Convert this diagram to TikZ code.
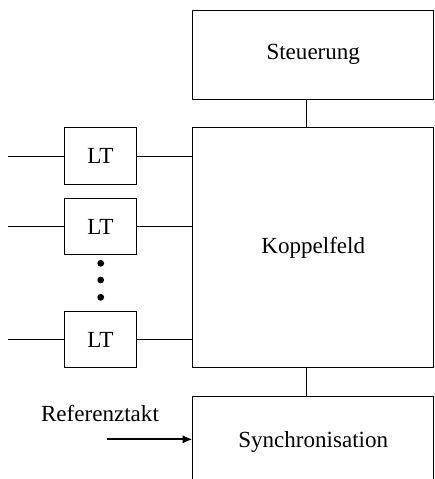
\documentclass[tikz,border=0pt]{standalone}
\usepackage{fontspec}
\setmainfont{Liberation Serif}
\usetikzlibrary{positioning,calc,arrows.meta}
\begin{document}
\begin{tikzpicture}[x=0.025cm,y=-0.025cm,line width=0.7pt,
    font=\fontsize{16.4}{20}\selectfont,
    block/.style={draw,minimum width=6.0125cm,inner sep=0pt},
    ltbox/.style={draw,minimum width=1.8cm,minimum height=1.41cm,inner sep=0pt}]
    \useasboundingbox (0,0) rectangle (434,479);
    \clip (0,0) rectangle (434,479);
    % right column
    \node[block,minimum height=2.21cm] (steuer) at (313.25,54.85) {Steuerung};
    \node[block,minimum height=6cm] (koppel) at (313.25,247.7) {Koppelfeld};
    \node[block,minimum height=2.3cm] (sync) at (313.25,442.3) {Synchronisation};
    \draw ($(steuer.south)+(-7.25,0)$) -- ($(koppel.north)+(-7.25,0)$);
    \draw ($(koppel.south)+(-7.25,0)$) -- ($(sync.north)+(-7.25,0)$);
    % line terminals
    \node[ltbox] (lt1) at (100.3,156) {LT};
    \node[ltbox] (lt2) at (100.3,226.5) {LT};
    \node[ltbox] (lt3) at (100.3,339.5) {LT};
    \foreach \n in {lt1,lt2,lt3} {
        \coordinate (in\n) at (8,0 |- \n.west);
        \draw (in\n) -- (\n.west);
        \draw (\n.east) -- (\n.east -| koppel.west);
    }
    \foreach \y in {263.3,280,297.3}
        \fill (100.7,\y) circle[radius=0.085cm];
    % clock input
    \node (reftxt) at (100,413) {Referenztakt};
    \coordinate (refin) at (106.7,439.3);
    \draw[line width=1.4pt,-{Latex[length=7pt,width=6pt]}] (refin) -- (refin -| sync.west);
\end{tikzpicture}
\end{document}
